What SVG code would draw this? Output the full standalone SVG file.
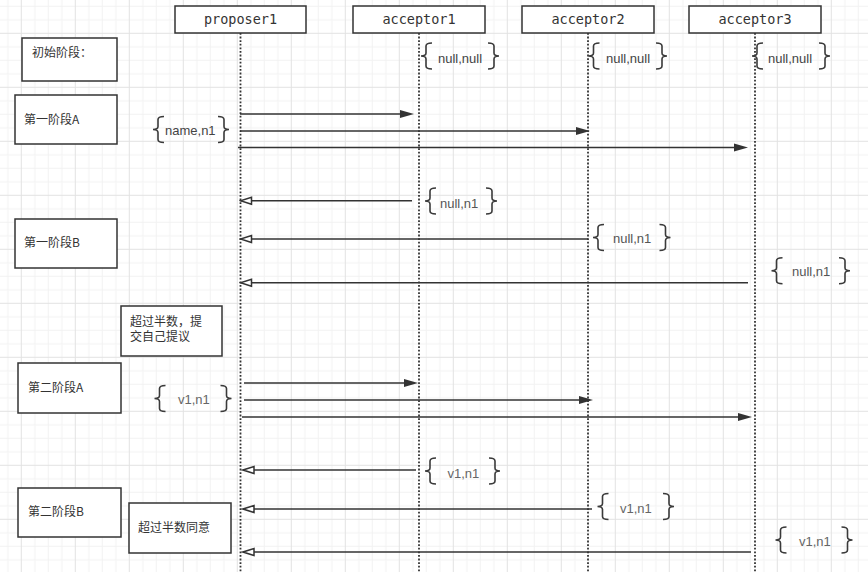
<svg xmlns="http://www.w3.org/2000/svg" xmlns:xlink="http://www.w3.org/1999/xlink" width="868" height="572" viewBox="0 0 868 572">
<style>
.box{fill:#fff;stroke:#333;stroke-width:1.5}
.hdr{font-family:"DejaVu Sans Mono","Liberation Mono",monospace;font-size:13.5px;fill:#333;text-anchor:middle}
.lbl{font-family:"Noto Sans CJK SC","Liberation Sans",sans-serif;font-size:12px;fill:#333}
.life{stroke:#333;stroke-width:1.8;stroke-dasharray:1.8 1.8;fill:none}
.br{fill:none;stroke:#3a3a3a;stroke-width:1.6}
.bt{font-family:"Liberation Sans","Noto Sans",sans-serif;font-size:13px;fill:#444}
.bt2{fill:#555}
.bt3{fill:#666}
.msg{stroke:#333;stroke-width:1.5;fill:none}
.req{marker-end:url(#fa)}
.rep{marker-end:url(#oa)}
</style>
<defs>
<pattern id="grid" width="54" height="54" patternUnits="userSpaceOnUse" x="20.8" y="32.8">
<path d="M14,0V54M27.5,0V54M41,0V54M0,14H54M0,27.5H54M0,41H54" stroke="#f2f2f2" stroke-width="1" fill="none"/>
<path d="M0.5,0V54M0,0.5H54" stroke="#e2e2e2" stroke-width="1" fill="none"/>
</pattern>
<marker id="fa" markerWidth="16" markerHeight="10" refX="4" refY="5" orient="auto" markerUnits="userSpaceOnUse">
<path d="M0,1 L14,5 L0,9 Z" fill="#333"/>
</marker>
<marker id="oa" markerWidth="14" markerHeight="12" refX="12" refY="6" orient="auto" markerUnits="userSpaceOnUse">
<path d="M1,2.5 L12,6 L1,9.5 Z" fill="#fff" stroke="#333" stroke-width="1.5"/>
</marker>
<path id="lb" class="br" d="M11,-13 Q5,-13 5,-10 L5,-3 Q5,0 0,0 Q5,0 5,3 L5,10 Q5,13 11,13"/>
<path id="rb" class="br" d="M-11,-13 Q-5,-13 -5,-10 L-5,-3 Q-5,0 0,0 Q-5,0 -5,3 L-5,10 Q-5,13 -11,13"/>
</defs>
<rect width="868" height="572" fill="#fff"/>
<rect width="868" height="572" fill="url(#grid)"/>

<g id="lifelines">
<line class="life" x1="240.5" y1="33" x2="240.5" y2="572"/>
<line class="life" x1="419" y1="33" x2="419" y2="572"/>
<line class="life" x1="588" y1="33" x2="588" y2="572"/>
<line class="life" x1="755" y1="33" x2="755" y2="572"/>
</g>

<g id="proposer1"><rect class="box" x="175" y="6" width="131" height="27"/><text class="hdr" x="240.5" y="24">proposer1</text></g>
<g id="acceptor1"><rect class="box" x="353" y="6" width="132" height="27"/><text class="hdr" x="419" y="24">acceptor1</text></g>
<g id="acceptor2"><rect class="box" x="522" y="6" width="132" height="27"/><text class="hdr" x="588" y="24">acceptor2</text></g>
<g id="acceptor3"><rect class="box" x="689" y="6" width="132" height="27"/><text class="hdr" x="755" y="24">acceptor3</text></g>

<g id="stage-init"><rect class="box" x="22" y="38" width="95" height="43"/><text class="lbl" x="32" y="56.5">初始阶段：</text></g>
<g id="stage-1a"><rect class="box" x="15" y="95" width="102" height="49"/><text class="lbl" x="24" y="123.5">第一阶段A</text></g>
<g id="stage-1b"><rect class="box" x="15" y="219" width="102" height="49"/><text class="lbl" x="24" y="246.8">第一阶段B</text></g>
<g id="note-majority"><rect class="box" x="121" y="306" width="101" height="50"/><text class="lbl" x="130" y="326.3">超过半数，提<tspan x="130" dy="14.2">交自己提议</tspan></text></g>
<g id="stage-2a"><rect class="box" x="18" y="363" width="103" height="50"/><text class="lbl" x="28" y="391.8">第二阶段A</text></g>
<g id="stage-2b"><rect class="box" x="18" y="488" width="103" height="49"/><text class="lbl" x="28" y="516.4">第二阶段B</text></g>
<g id="note-agree"><rect class="box" x="129" y="503" width="102" height="50"/><text class="lbl" x="138" y="531.6">超过半数同意</text></g>

<g id="val-a1-init"><use href="#lb" x="421" y="56"/><use href="#rb" x="499" y="56"/><text class="bt" x="438" y="63">null,null</text></g>
<g id="val-a2-init"><use href="#lb" x="588.5" y="56"/><use href="#rb" x="667" y="56"/><text class="bt" x="606" y="63">null,null</text></g>
<g id="val-a3-init"><use href="#lb" x="752" y="56"/><use href="#rb" x="830" y="56"/><text class="bt" x="768" y="63">null,null</text></g>

<g id="val-p-prepare"><use href="#lb" x="153" y="129.5"/><use href="#rb" x="229" y="129.5"/><text class="bt" x="165" y="134.5">name,n1</text></g>

<g id="val-a1-promise"><use href="#lb" x="425" y="201"/><use href="#rb" x="497" y="201"/><text class="bt bt2" x="440" y="208">null,n1</text></g>
<g id="val-a2-promise"><use href="#lb" x="593" y="237.5"/><use href="#rb" x="670.5" y="237.5"/><text class="bt bt2" x="613" y="243">null,n1</text></g>
<g id="val-a3-promise"><use href="#lb" x="771.5" y="270.7"/><use href="#rb" x="850" y="270.7"/><text class="bt bt2" x="792" y="276">null,n1</text></g>

<g id="val-p-accept"><use href="#lb" x="154.5" y="398.5"/><use href="#rb" x="231.5" y="398.5"/><text class="bt bt3" x="178" y="404">v1,n1</text></g>

<g id="val-a1-accepted"><use href="#lb" x="425" y="471"/><use href="#rb" x="500" y="471"/><text class="bt bt3" x="447.5" y="477.5">v1,n1</text></g>
<g id="val-a2-accepted"><use href="#lb" x="597.5" y="506.5"/><use href="#rb" x="674" y="506.5"/><text class="bt bt3" x="620" y="513">v1,n1</text></g>
<g id="val-a3-accepted"><use href="#lb" x="775.5" y="540"/><use href="#rb" x="852.5" y="540"/><text class="bt bt3" x="799" y="546">v1,n1</text></g>

<g id="connectors">
<line class="msg req" x1="240" y1="114" x2="404" y2="114"/>
<line class="msg req" x1="240" y1="131" x2="580" y2="131"/>
<line class="msg req" x1="238" y1="147.5" x2="738" y2="147.5"/>

<line class="msg rep" x1="412" y1="200.7" x2="240.5" y2="200.7"/>
<line class="msg rep" x1="588" y1="239" x2="240.5" y2="239"/>
<line class="msg rep" x1="748" y1="282.7" x2="240.5" y2="282.7"/>

<line class="msg req" x1="244" y1="383" x2="408" y2="383"/>
<line class="msg req" x1="244" y1="400" x2="583" y2="400"/>
<line class="msg req" x1="242" y1="417" x2="742" y2="417"/>

<line class="msg rep" x1="416" y1="470" x2="243" y2="470"/>
<line class="msg rep" x1="592" y1="509" x2="243" y2="509"/>
<line class="msg rep" x1="751" y1="552" x2="243" y2="552"/>
</g>
</svg>
